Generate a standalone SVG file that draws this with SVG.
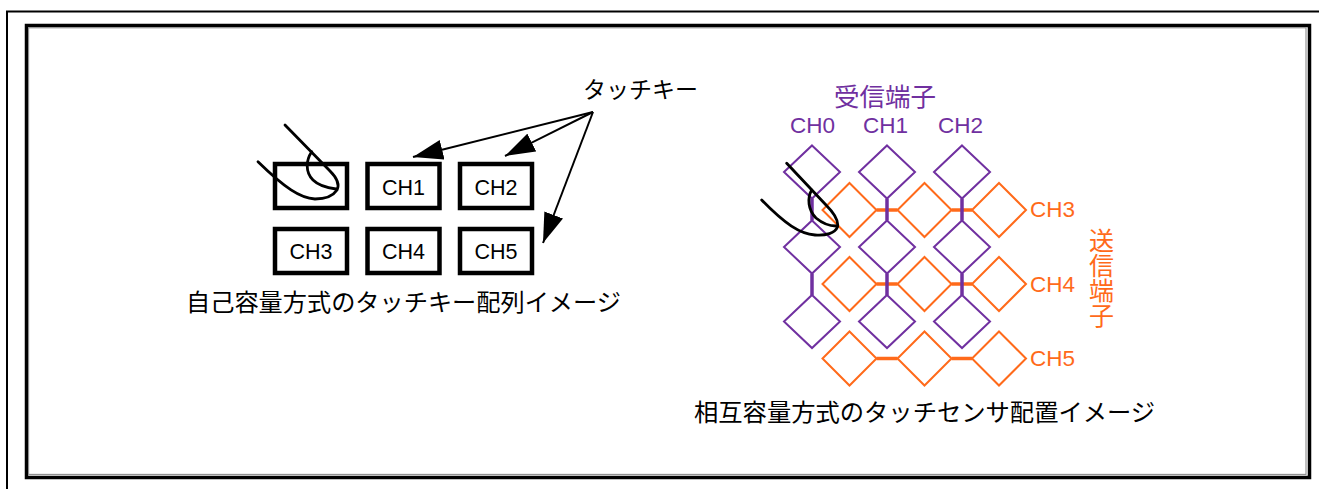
<svg xmlns="http://www.w3.org/2000/svg" width="1319" height="489" viewBox="0 0 1319 489">
  <defs>
    <style>
      .jp { font-family: "Noto Sans CJK JP", "Noto Sans", sans-serif; }
      .lat { font-family: "Liberation Sans", Arial, sans-serif; }
      .key { fill: #ffffff; stroke: #000000; stroke-width: 4.5; }
      .keytxt { font-size: 21.5px; fill: #000000; text-anchor: middle; }
      .finger { fill: none; stroke: #000000; stroke-width: 2.8; stroke-linecap: round; stroke-linejoin: round; }
      .rx { fill: none; stroke: #7030a0; stroke-width: 2; }
      .tx { fill: none; stroke: #ff6a1a; stroke-width: 2; }
      .rxlink { stroke: #7030a0; stroke-width: 3.5; }
      .txlink { stroke: #ff6a1a; stroke-width: 3.5; }
      .rxtxt { fill: #7030a0; }
      .txtxt { fill: #ff6a1a; }
      .vert { writing-mode: vertical-rl; }
      .lead { stroke: #000000; stroke-width: 2; fill: none; }
    </style>
    <marker id="head" viewBox="0 0 30 20" refX="30" refY="10" markerWidth="30" markerHeight="20" markerUnits="userSpaceOnUse" orient="auto">
      <path d="M0,0 L30,10 L0,20 z" fill="#000000"/>
    </marker>
    <!-- sensor electrode shapes -->
    <path id="rxd" class="rx" d="M0,-26.5 L28,0 L0,26.5 L-28,0 z"/>
    <path id="txd" class="tx" d="M0,-27 L27,0 L0,27 L-27,0 z"/>
  </defs>

  <rect x="0" y="0" width="1319" height="489" fill="#ffffff"/>

  <!-- page frames -->
  <g id="frame">
    <polyline points="7,489 7,11.5 1319,11.5" fill="none" stroke="#000000" stroke-width="2"/>
    <rect x="26.5" y="25.5" width="1283" height="452" fill="none" stroke="#000000" stroke-width="3.5"/>
    <rect x="28.6" y="27.8" width="1277.4" height="446.6" fill="none" stroke="#8c8c8c" stroke-width="1.1"/>
  </g>

  <!-- self-capacitance key array -->
  <g id="key-ch-finger"><rect class="key" x="275" y="164" width="72" height="44"/></g>
  <g id="key-ch1"><rect class="key" x="367.5" y="164" width="72" height="44"/><text class="lat keytxt" x="403.5" y="195">CH1</text></g>
  <g id="key-ch2"><rect class="key" x="460" y="164" width="72" height="44"/><text class="lat keytxt" x="496" y="195">CH2</text></g>
  <g id="key-ch3"><rect class="key" x="275" y="229" width="72" height="44"/><text class="lat keytxt" x="311" y="258.5">CH3</text></g>
  <g id="key-ch4"><rect class="key" x="367.5" y="229" width="72" height="44"/><text class="lat keytxt" x="403.5" y="258.5">CH4</text></g>
  <g id="key-ch5"><rect class="key" x="460" y="229" width="72" height="44"/><text class="lat keytxt" x="496" y="258.5">CH5</text></g>

  <g id="finger-left">
    <path class="finger" d="M285,125 L330,171 C337,178 340,184 337,190 C333,196 324,199 315,199 C300,198 285,188 258,161.7"/>
    <path class="finger" d="M311.7,151.7 C306,160 305,172 313,180 C319,186 328,188 336,189"/>
  </g>

  <g id="label-touchkey">
    <text class="jp" x="583" y="98" font-size="23" fill="#000000">タッチキー</text>
  </g>

  <g id="connectors">
    <line class="lead" x1="593" y1="112" x2="413" y2="157" marker-end="url(#head)"/>
    <line class="lead" x1="593" y1="112" x2="505" y2="156" marker-end="url(#head)"/>
    <line class="lead" x1="593" y1="112" x2="543" y2="243" marker-end="url(#head)"/>
  </g>

  <g id="caption-self">
    <text class="jp" x="186" y="311" font-size="24.2" fill="#000000">自己容量方式のタッチキー配列イメージ</text>
  </g>

  <!-- mutual-capacitance sensor grid -->
  <g id="rx-electrodes">
    <use href="#rxd" x="812" y="172"/><use href="#rxd" x="812" y="247"/><use href="#rxd" x="812" y="321.5"/>
    <use href="#rxd" x="887" y="172"/><use href="#rxd" x="887" y="247"/><use href="#rxd" x="887" y="321.5"/>
    <use href="#rxd" x="962" y="172"/><use href="#rxd" x="962" y="247"/><use href="#rxd" x="962" y="321.5"/>
  </g>
  <g id="tx-electrodes">
    <use href="#txd" x="849.5" y="210"/><use href="#txd" x="924.5" y="210"/><use href="#txd" x="999" y="210"/>
    <use href="#txd" x="849.5" y="284"/><use href="#txd" x="924.5" y="284"/><use href="#txd" x="999" y="284"/>
    <use href="#txd" x="849.5" y="358.5"/><use href="#txd" x="924.5" y="358.5"/><use href="#txd" x="999" y="358.5"/>
  </g>
  <g id="tx-links">
    <line class="txlink" x1="876.5" y1="210" x2="897.5" y2="210"/>
    <line class="txlink" x1="951.5" y1="210" x2="972" y2="210"/>
    <line class="txlink" x1="876.5" y1="284" x2="897.5" y2="284"/>
    <line class="txlink" x1="951.5" y1="284" x2="972" y2="284"/>
    <line class="txlink" x1="876.5" y1="358.5" x2="897.5" y2="358.5"/>
    <line class="txlink" x1="951.5" y1="358.5" x2="972" y2="358.5"/>
  </g>
  <g id="rx-links">
    <line class="rxlink" x1="812" y1="198.5" x2="812" y2="220.5"/>
    <line class="rxlink" x1="812" y1="273.5" x2="812" y2="295"/>
    <line class="rxlink" x1="887" y1="198.5" x2="887" y2="220.5"/>
    <line class="rxlink" x1="887" y1="273.5" x2="887" y2="295"/>
    <line class="rxlink" x1="962" y1="198.5" x2="962" y2="220.5"/>
    <line class="rxlink" x1="962" y1="273.5" x2="962" y2="295"/>
  </g>

  <g id="label-rx">
    <text class="jp rxtxt" x="834" y="106" font-size="25.5">受信端子</text>
    <text class="lat rxtxt" x="790" y="133" font-size="22.5">CH0</text>
    <text class="lat rxtxt" x="863" y="133" font-size="22.5">CH1</text>
    <text class="lat rxtxt" x="938" y="133" font-size="22.5">CH2</text>
  </g>
  <g id="label-tx">
    <text class="lat txtxt" x="1030" y="217" font-size="22.5">CH3</text>
    <text class="lat txtxt" x="1030" y="291.5" font-size="22.5">CH4</text>
    <text class="lat txtxt" x="1030" y="365.5" font-size="22.5">CH5</text>
    <text class="jp txtxt vert" x="1101.5" y="228" font-size="25">送信端子</text>
  </g>

  <g id="finger-right">
    <path class="finger" d="M786.7,163.3 L826,205 C834,213 839,220 837.5,227 C835,233 826,236 815,235 C800,234 785,224 761.7,200"/>
    <path class="finger" d="M811.7,190 C807,198 808,210 816,218 C822,223 829,226 836,226"/>
  </g>

  <g id="caption-mutual">
    <text class="jp" x="694" y="421" font-size="24.3" fill="#000000">相互容量方式のタッチセンサ配置イメージ</text>
  </g>
</svg>
